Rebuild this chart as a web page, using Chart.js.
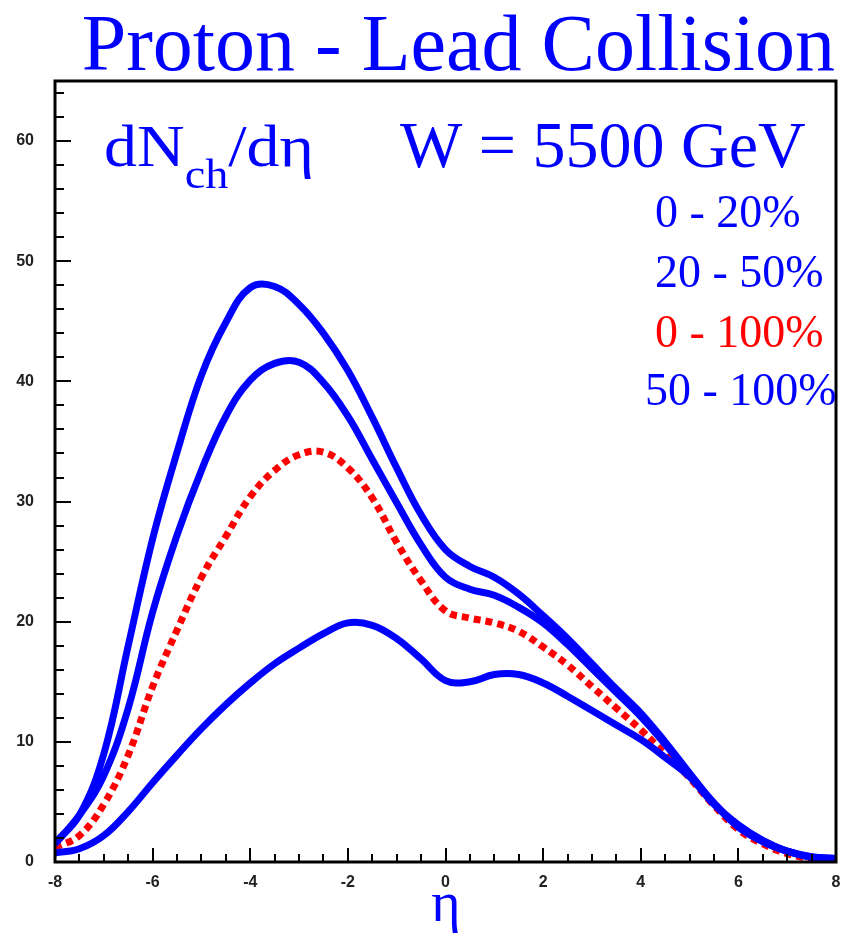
<!DOCTYPE html>
<html>
<head>
<meta charset="utf-8">
<title>Proton - Lead Collision</title>
<script src="https://cdn.jsdelivr.net/npm/chart.js@4.4.1/dist/chart.umd.min.js"></script>
<style>
  html, body { margin: 0; padding: 0; background: #fff; }
  #chart { display: block; }
</style>
</head>
<body>
<canvas id="chart" width="842" height="933"></canvas>
<script>
// pseudorapidity grid
const eta = [-8, -7.5, -7, -6.5, -6, -5.5, -5, -4.5, -4, -3.5, -3, -2.5, -2, -1.5, -1, -0.5,
  0, 0.5, 1, 1.5, 2, 2.5, 3, 3.5, 4, 4.5, 5, 5.5, 6, 6.5, 7, 7.5, 8];

// dNch/deta for each centrality class
const cent0to20 = [1.6, 3.9, 9.0, 18.0, 26.9, 34.1, 40.5, 44.9, 47.8, 47.9, 46.4, 44.0, 40.9, 37.0, 32.8, 28.9,
  26.0, 24.6, 23.7, 22.3, 20.5, 18.6, 16.5, 14.4, 12.4, 10.0, 7.4, 4.9, 3.0, 1.7, 0.9, 0.45, 0.3];
const cent20to50 = [1.5, 3.9, 7.2, 12.8, 20.8, 27.2, 32.6, 37.1, 40.1, 41.5, 41.6, 39.9, 37.1, 33.5, 29.9, 26.4,
  23.7, 22.7, 22.2, 21.2, 19.9, 18.1, 16.1, 14.1, 12.1, 9.8, 7.3, 4.9, 2.9, 1.7, 0.9, 0.4, 0.3];
const cent0to100 = [1.2, 2.2, 4.8, 8.9, 14.6, 19.3, 23.7, 27.1, 30.4, 32.6, 33.9, 34.1, 32.8, 30.3, 26.6, 23.4,
  20.9, 20.3, 19.9, 19.2, 17.9, 16.4, 14.6, 12.8, 11.0, 9.0, 7.0, 4.7, 2.7, 1.5, 0.7, 0.3, 0.3];
const cent50to100 = [0.75, 1.1, 2.2, 4.2, 6.6, 8.9, 11.1, 13.1, 14.9, 16.5, 17.8, 19.0, 19.9, 19.7, 18.6, 16.9,
  15.1, 15.0, 15.6, 15.6, 14.9, 13.8, 12.6, 11.4, 10.2, 8.7, 7.1, 4.8, 3.1, 1.8, 0.9, 0.4, 0.3];

const legendLabels = ['0 - 20%', '20 - 50%', '0 - 100%', '50 - 100%'];
const xTicks = [-8, -6, -4, -2, 0, 2, 4, 6, 8];
const yTicks = [0, 10, 20, 30, 40, 50, 60];

const BLUE = '#0000ff';
const RED = '#ff0000';
const SERIF = '"Liberation Serif", "DejaVu Serif", serif';

function toPoints(ys) {
  return eta.map((x, i) => ({ x: x, y: ys[i] }));
}

function lineSet(label, ys, color, dash) {
  return {
    label: label,
    data: toPoints(ys),
    borderColor: color,
    borderWidth: 7,
    borderDash: dash || [],
    pointRadius: 0,
    fill: false,
    tension: 0.4
  };
}

// frame, inward ticks and the text annotations
const decorations = {
  id: 'decorations',
  afterDraw(chart) {
    const ctx = chart.ctx;
    const area = chart.chartArea;
    const xs = chart.scales.x;
    const ys = chart.scales.y;
    ctx.save();

    // ticks along the bottom
    ctx.strokeStyle = '#000';
    ctx.lineWidth = 2;
    for (let v = -8; v <= 8; v += 0.5) {
      const px = Math.round(xs.getPixelForValue(v));
      const len = (v % 2 === 0) ? 14 : 8;
      ctx.beginPath();
      ctx.moveTo(px, area.bottom);
      ctx.lineTo(px, area.bottom - len);
      ctx.stroke();
    }
    // ticks along the left side
    for (let v = 0; v <= 64; v += 2) {
      const py = Math.round(ys.getPixelForValue(v));
      const len = (v % 10 === 0) ? 16 : 9;
      ctx.beginPath();
      ctx.moveTo(area.left, py);
      ctx.lineTo(area.left + len, py);
      ctx.stroke();
    }

    // frame
    ctx.lineWidth = 3;
    ctx.strokeRect(area.left, area.top, area.right - area.left, area.bottom - area.top);

    // title
    ctx.fillStyle = BLUE;
    ctx.textBaseline = 'alphabetic';
    ctx.textAlign = 'right';
    ctx.font = '80px ' + SERIF;
    ctx.fillText('Proton - Lead Collision', 835, 70);

    // dNch/deta, a little wider than the plain font
    ctx.textAlign = 'left';
    ctx.save();
    ctx.translate(104, 0);
    ctx.scale(1.1, 1);
    let x = 0;
    ctx.font = '60px ' + SERIF;
    ctx.fillText('dN', x, 166);
    x += ctx.measureText('dN').width;
    ctx.font = '42px ' + SERIF;
    ctx.fillText('ch', x, 188);
    x += ctx.measureText('ch').width;
    ctx.font = '60px ' + SERIF;
    ctx.fillText('/d\u03b7', x, 166);
    ctx.restore();

    // energy
    ctx.font = '66px ' + SERIF;
    ctx.fillText('W = 5500 GeV', 400, 167);

    // centrality labels
    ctx.font = '46px ' + SERIF;
    const lx = [655, 655, 655, 645];
    const ly = [227, 287, 347, 405];
    legendLabels.forEach((t, i) => {
      ctx.fillStyle = i === 2 ? RED : BLUE;
      ctx.fillText(t, lx[i], ly[i]);
    });

    // x axis title
    ctx.fillStyle = BLUE;
    ctx.textAlign = 'center';
    ctx.font = '56px ' + SERIF;
    ctx.fillText('\u03b7', 446, 921);

    ctx.restore();
  }
};

new Chart(document.getElementById('chart'), {
  type: 'line',
  data: {
    datasets: [
      lineSet(legendLabels[0], cent0to20, BLUE),
      lineSet(legendLabels[1], cent20to50, BLUE),
      lineSet(legendLabels[3], cent50to100, BLUE),
      lineSet(legendLabels[2], cent0to100, RED, [7, 5])
    ]
  },
  options: {
    responsive: false,
    animation: false,
    layout: { padding: { top: 81, right: 6, left: 0, bottom: 0 } },
    plugins: {
      legend: { display: false },
      tooltip: { enabled: false }
    },
    scales: {
      x: {
        type: 'linear',
        min: -8,
        max: 8,
        grid: { display: false, drawTicks: false },
        border: { display: false },
        afterFit: (scale) => {
          scale.height = 71;
          scale.paddingLeft = 0;
          scale.paddingRight = 0;
        },
        afterBuildTicks: (scale) => { scale.ticks = xTicks.map(v => ({ value: v })); },
        ticks: {
          padding: 11,
          maxRotation: 0,
          autoSkip: false,
          color: '#222',
          font: { family: '"Liberation Sans", Arial, sans-serif', size: 16, weight: 'bold' },
          callback: (v) => String(v)
        }
      },
      y: {
        type: 'linear',
        min: 0,
        max: 65,
        grid: { display: false, drawTicks: false },
        border: { display: false },
        afterFit: (scale) => {
          scale.width = 55;
          scale.paddingTop = 0;
          scale.paddingBottom = 0;
        },
        afterBuildTicks: (scale) => { scale.ticks = yTicks.map(v => ({ value: v })); },
        ticks: {
          padding: 21,
          color: '#222',
          font: { family: '"Liberation Sans", Arial, sans-serif', size: 16, weight: 'bold' },
          callback: (v) => String(v)
        }
      }
    }
  },
  plugins: [decorations]
});
</script>
</body>
</html>
